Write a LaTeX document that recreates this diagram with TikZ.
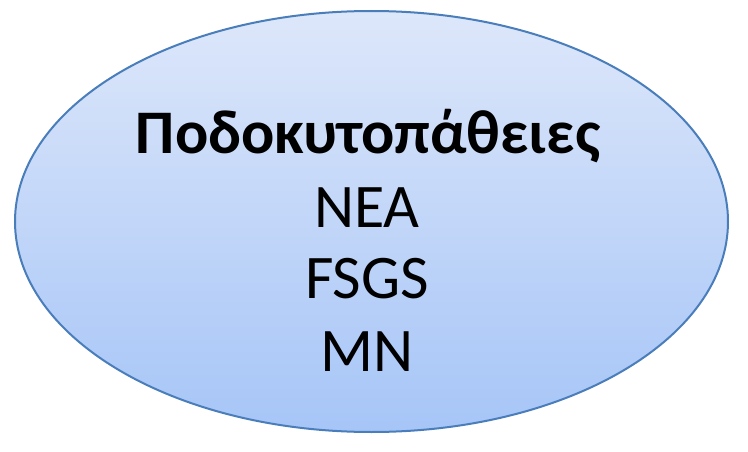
\documentclass[tikz,border=0pt]{standalone}
\usepackage{fontspec}
\setmainfont{Carlito}
\definecolor{rimblue}{HTML}{4A7EBB}
\definecolor{topblue}{HTML}{DDE7FA}
\definecolor{botblue}{HTML}{A6C5F7}
\tikzset{
    blob/.style={draw=rimblue, line width=2pt, top color=topblue, bottom color=botblue},
    word/.style={anchor=base, inner sep=0pt, font=\fontsize{62}{62}\selectfont}
}
\begin{document}
\begin{tikzpicture}[x=1pt, y=1pt]

            % the frame
            \useasboundingbox (0, 0) rectangle (748, 451);

            % the body
            \path[blob] (371.5, 229.5) ellipse [x radius=356.5, y radius=210.5];

            % the words
            \node[word, font=\fontsize{62}{62}\selectfont\bfseries] (title) at (368, 298) {Ποδοκυτοπάθειες};
            \foreach \name/\txt/\y in {nea/NEA/224, fsgs/FSGS/153, mn/MN/80} {
                \node[word] (\name) at (367, \y) {\txt};
            };
        \end{tikzpicture}
\end{document}
